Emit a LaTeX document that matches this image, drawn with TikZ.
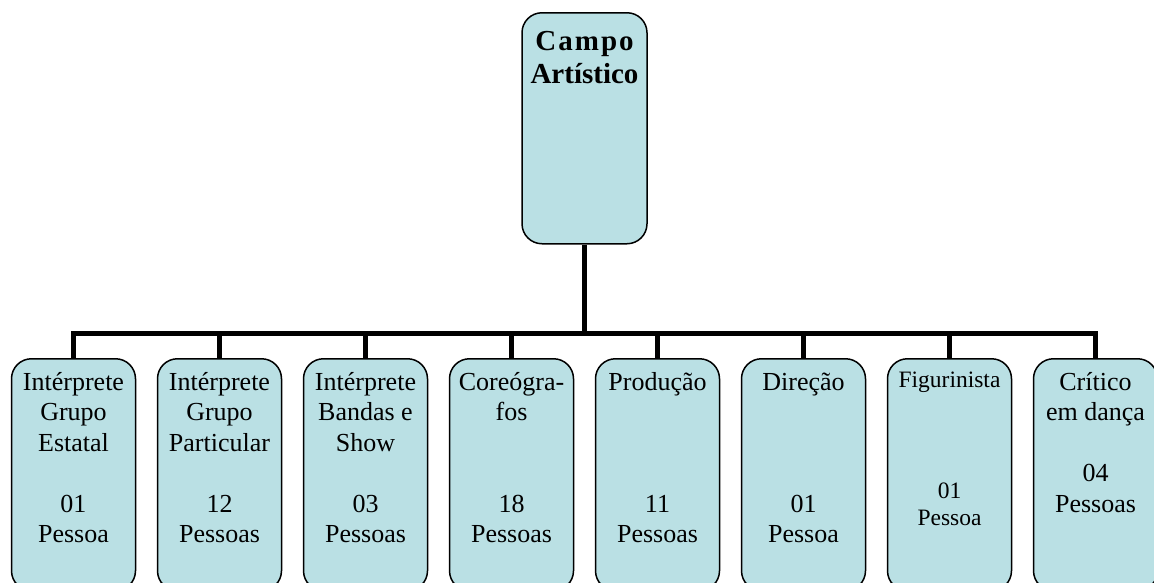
\documentclass[tikz,border=0pt]{standalone}
\usepackage{fontspec}
\setmainfont{Liberation Serif}
\definecolor{boxfill}{RGB}{186,224,228}
\begin{document}
\begin{tikzpicture}[x=1pt,y=-1pt,
  unitbox/.style={draw=black, line width=1.5pt, fill=boxfill, rounded corners=20pt,
    minimum width=124pt, minimum height=232pt, inner sep=0pt, anchor=north},
  boxtext/.style={anchor=north, inner sep=0pt, align=center, yshift=-8pt,
    font=\fontsize{26}{30.5}\selectfont},
  smalltext/.style={anchor=north, inner sep=0pt, align=center, yshift=-7pt,
    font=\fontsize{23.5}{27.7}\selectfont},
  roottext/.style={anchor=north, inner sep=0pt, align=center, yshift=-10pt,
    font=\bfseries\fontsize{29}{33}\selectfont},
  wire/.style={draw=black, line width=5pt}]
\useasboundingbox (0,0) rectangle (1154,582);
\clip (0,0) rectangle (1154,582);

% root box
\node[unitbox, minimum width=125pt, minimum height=231pt] (root) at (584.5,12) {};
\node[roottext] (rt) at (root.north)
  {\rule{0pt}{28pt}{\addfontfeature{LetterSpace=7}Campo}\\Artístico};

% branch boxes
\node[unitbox] (b1) at (73.5,358) {};
\node[unitbox] (b2) at (219.5,358) {};
\node[unitbox] (b3) at (365.5,358) {};
\node[unitbox] (b4) at (511.5,358) {};
\node[unitbox] (b5) at (657.5,358) {};
\node[unitbox] (b6) at (803.5,358) {};
\node[unitbox] (b7) at (949.5,358) {};
\node[unitbox] (b8) at (1095.5,358) {};

% connectors
\coordinate (bus) at (584.5,333);
\draw[wire] (root.south) -- (bus);
\foreach \b in {b1,b2,b3,b4,b5,b6,b7,b8}
  \draw[wire] (\b.north) |- (bus);

% labels
\node[boxtext] (t1) at (b1.north) {\rule{0pt}{24pt}Intérprete\\Grupo\\Estatal\\\mbox{}\\01\\Pessoa};
\node[boxtext] (t2) at (b2.north) {\rule{0pt}{24pt}Intérprete\\Grupo\\Particular\\\mbox{}\\12\\Pessoas};
\node[boxtext] (t3) at (b3.north) {\rule{0pt}{24pt}Intérprete\\Bandas e\\Show\\\mbox{}\\03\\Pessoas};
\node[boxtext] (t4) at (b4.north) {\rule{0pt}{24pt}Coreógra-\\fos\\\mbox{}\\\mbox{}\\18\\Pessoas};
\node[boxtext] (t5) at (b5.north) {\rule{0pt}{24pt}Produção\\\mbox{}\\\mbox{}\\\mbox{}\\11\\Pessoas};
\node[boxtext] (t6) at (b6.north) {\rule{0pt}{24pt}Direção\\\mbox{}\\\mbox{}\\\mbox{}\\01\\Pessoa};
\node[smalltext] (t7) at (b7.north) {\rule{0pt}{22pt}Figurinista\\\mbox{}\\\mbox{}\\\mbox{}\\01\\Pessoa};
\node[boxtext] (t8) at (b8.north) {\rule{0pt}{24pt}Crítico\\em dança\\\mbox{}\\04\\Pessoas};
\end{tikzpicture}
\end{document}
